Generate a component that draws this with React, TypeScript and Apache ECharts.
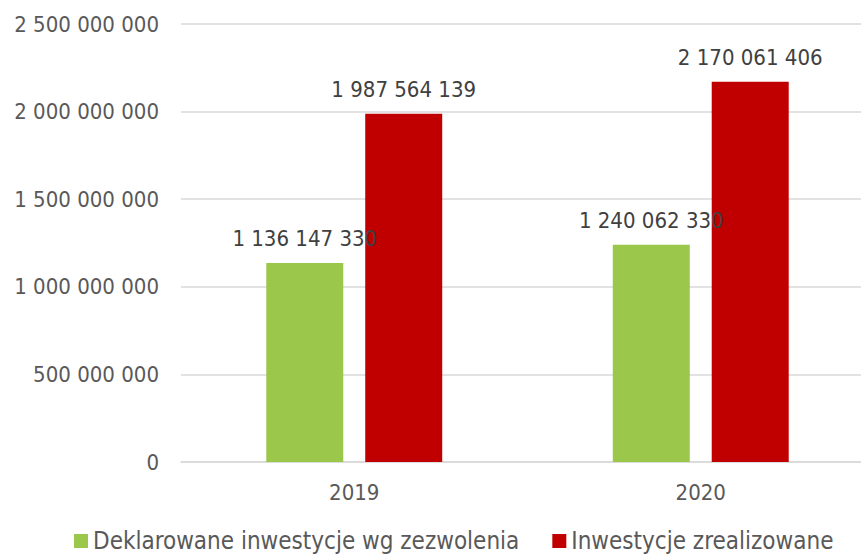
import React, { useEffect, useRef } from "react";
import * as echarts from "echarts";

const categories = ["2019", "2020"];
const declared = [1136147330, 1240062330];
const realized = [1987564139, 2170061406];
const seriesNames = ["Deklarowane inwestycje wg zezwolenia", "Inwestycje zrealizowane"];

const fmt = (v: number) => String(Math.round(v)).replace(/\B(?=(\d{3})+(?!\d))/g, " ");

const FONT = "DejaVu Sans Condensed";

export default function App() {
  const ref = useRef<HTMLDivElement>(null);
  useEffect(() => {
    const chart = echarts.init(ref.current!, null, { renderer: "svg" });
    const label = {
      show: true,
      position: "top" as const,
      distance: 13,
      formatter: (p: any) => fmt(p.value),
      color: "#404040",
      fontSize: 22,
      fontFamily: FONT,
    };
    chart.setOption({
      animation: false,
      grid: { left: 181, top: 24, width: 693, height: 438, containLabel: false },
      legend: {
        data: seriesNames,
        bottom: -3,
        left: 69,
        icon: "rect",
        itemWidth: 14,
        itemHeight: 14,
        itemGap: 33,
        textStyle: { color: "#595959", fontSize: 24, fontFamily: FONT },
      },
      xAxis: {
        type: "category",
        data: categories,
        axisLine: { lineStyle: { color: "#d9d9d9", width: 1.5 } },
        axisTick: { show: false },
        axisLabel: { color: "#595959", fontSize: 22, fontFamily: FONT, margin: 19 },
      },
      yAxis: {
        type: "value",
        min: 0,
        max: 2500000000,
        interval: 500000000,
        axisLine: { show: false },
        axisTick: { show: false },
        splitLine: { lineStyle: { color: "#d9d9d9", width: 1.5 } },
        axisLabel: {
          color: "#595959",
          fontSize: 22,
          fontFamily: FONT,
          margin: 22,
          formatter: (v: number) => fmt(v),
        },
      },
      series: [
        {
          name: seriesNames[0],
          type: "bar",
          data: declared,
          barWidth: 77,
          barGap: "28.5%",
          itemStyle: { color: "#9bc74b" },
          label,
        },
        {
          name: seriesNames[1],
          type: "bar",
          data: realized,
          barWidth: 77,
          barGap: "28.5%",
          itemStyle: { color: "#c00000" },
          label,
        },
      ],
    });
    return () => chart.dispose();
  }, []);
  return (
    <div
      style={{ position: "fixed", left: 0, top: 0, width: 861, height: 555, overflow: "hidden", background: "#fff" }}
    >
      <div ref={ref} style={{ width: 880, height: 555 }} />
    </div>
  );
}
